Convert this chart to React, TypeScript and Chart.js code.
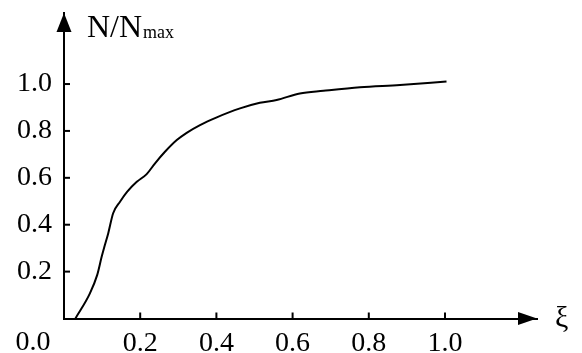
import React, { useEffect, useRef } from "react";
import { Chart, registerables } from "chart.js";

Chart.register(...registerables);

const xValues = [0.03, 0.068, 0.087, 0.099, 0.106, 0.116, 0.129, 0.147, 0.166, 0.191, 0.217, 0.239, 0.265, 0.296, 0.322, 0.357, 0.401, 0.462, 0.514, 0.558, 0.619, 0.681, 0.777, 0.882, 1.004];
const yValues = [0.0, 0.107, 0.185, 0.264, 0.306, 0.363, 0.449, 0.498, 0.541, 0.583, 0.616, 0.662, 0.711, 0.761, 0.792, 0.825, 0.858, 0.896, 0.92, 0.932, 0.96, 0.971, 0.986, 0.996, 1.011];
const xTickValues = [0.2, 0.4, 0.6, 0.8, 1.0];
const yTickValues = [0.2, 0.4, 0.6, 0.8, 1.0];
const originLabel = "0.0";
const yTitle = "N/N";
const yTitleSub = "max";
const xTitle = "ξ";

const FONT = "'Liberation Serif', 'Times New Roman', serif";

const decorPlugin = {
  id: "decor",
  afterDraw(chart: any) {
    const ctx = chart.ctx;
    const xs = chart.scales.x;
    const ys = chart.scales.y;
    const left = chart.chartArea.left;
    const right = chart.chartArea.right;
    const top = chart.chartArea.top;
    const bottom = chart.chartArea.bottom;
    ctx.save();
    ctx.strokeStyle = "#000";
    ctx.fillStyle = "#000";
    ctx.lineWidth = 2;
    xTickValues.forEach((v) => {
      const px = xs.getPixelForValue(v);
      ctx.beginPath();
      ctx.moveTo(px, bottom);
      ctx.lineTo(px, bottom - 6);
      ctx.stroke();
    });
    yTickValues.forEach((v) => {
      const py = ys.getPixelForValue(v);
      ctx.beginPath();
      ctx.moveTo(left, py);
      ctx.lineTo(left + 6, py);
      ctx.stroke();
    });
    ctx.beginPath();
    ctx.moveTo(left, top);
    ctx.lineTo(left - 7.5, top + 19);
    ctx.lineTo(left + 7.5, top + 19);
    ctx.closePath();
    ctx.fill();
    ctx.beginPath();
    ctx.moveTo(right, bottom);
    ctx.lineTo(right - 19, bottom - 6.5);
    ctx.lineTo(right - 19, bottom + 6.5);
    ctx.closePath();
    ctx.fill();
    ctx.font = `28px ${FONT}`;
    ctx.textAlign = "center";
    ctx.textBaseline = "alphabetic";
    ctx.fillText(originLabel, left - 31, bottom + 31);
    ctx.textAlign = "left";
    ctx.font = `32px ${FONT}`;
    ctx.fillText(yTitle, left + 23, top + 24);
    const w = ctx.measureText(yTitle).width;
    ctx.font = `18px ${FONT}`;
    ctx.fillText(yTitleSub, left + 23 + w + 1, top + 25);
    ctx.font = `30px ${FONT}`;
    ctx.textBaseline = "middle";
    ctx.fillText(xTitle, right + 18, bottom + 1);
    ctx.restore();
  },
};

export default function App() {
  const ref = useRef<HTMLCanvasElement>(null);
  useEffect(() => {
    if (!ref.current) return;
    const chart = new Chart(ref.current, {
      type: "line",
      data: {
        datasets: [
          {
            data: xValues.map((x, i) => ({ x, y: yValues[i] })),
            borderColor: "#000",
            borderWidth: 2,
            pointRadius: 0,
            fill: false,
            cubicInterpolationMode: "monotone",
          },
        ],
      },
      options: {
        animation: false,
        responsive: false,
        layout: { padding: { left: 0, right: 45, top: 13, bottom: 0 } },
        plugins: { legend: { display: false }, tooltip: { enabled: false } },
        scales: {
          x: {
            type: "linear",
            min: 0,
            max: 1.2415,
            grid: { display: false, drawTicks: false },
            border: { display: true, color: "#000", width: 2 },
            afterBuildTicks: (s: any) => {
              s.ticks = xTickValues.map((v) => ({ value: v }));
            },
            afterFit: (s: any) => {
              s.height = 34.5;
              s.paddingLeft = 0;
              s.paddingRight = 0;
              s.paddingTop = 0;
              s.paddingBottom = 0;
            },
            ticks: {
              padding: 8,
              color: "#000",
              font: { family: FONT, size: 28 },
              maxRotation: 0,
              autoSkip: false,
              callback: (v: any) => Number(v).toFixed(1),
            },
          },
          y: {
            type: "linear",
            min: 0,
            max: 1.303,
            grid: { display: false, drawTicks: false },
            border: { display: true, color: "#000", width: 2 },
            afterBuildTicks: (s: any) => {
              s.ticks = yTickValues.map((v) => ({ value: v }));
            },
            afterFit: (s: any) => {
              s.width = 64;
              s.paddingLeft = 0;
              s.paddingRight = 0;
              s.paddingTop = 0;
              s.paddingBottom = 0;
            },
            ticks: {
              padding: 12,
              color: "#000",
              font: { family: FONT, size: 28 },
              autoSkip: false,
              callback: (v: any) => Number(v).toFixed(1),
            },
          },
        },
      },
      plugins: [decorPlugin],
    });
    return () => chart.destroy();
  }, []);
  return (
    <div style={{ position: "fixed", left: 0, top: 0, width: 582, height: 353, background: "#fff" }}>
      <canvas ref={ref} width={582} height={353} style={{ display: "block" }} />
    </div>
  );
}
